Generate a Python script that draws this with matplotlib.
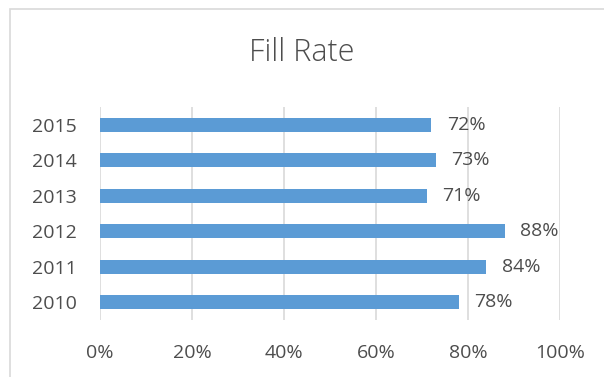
import matplotlib.pyplot as plt
from matplotlib.patches import Rectangle

years = ['2010', '2011', '2012', '2013', '2014', '2015']
fill_rate = [78, 84, 88, 71, 73, 72]
x_ticks = [0, 20, 40, 60, 80, 100]

text_color = '#4D4D4D'
bar_color = '#5B9BD5'
grid_color = '#D9D9D9'

plt.rcParams['font.family'] = ['Open Sans', 'DejaVu Sans']

fig = plt.figure(figsize=(6.04, 3.77), dpi=100)
W, H = 604, 377

# chart frame (cropped on the right and bottom)
fig.patches.append(Rectangle((10 / W, -0.1), 1.2, 1 - 9 / H + 0.1,
                             transform=fig.transFigure, fill=False,
                             edgecolor=grid_color, linewidth=1.2))

ax = fig.add_axes([100 / W, 1 - 320 / H, 460 / W, 213 / H])
pos = range(len(years))
ax.barh(pos, fill_rate, height=0.4, color=bar_color, zorder=3)

for y, v in zip(pos, fill_rate):
    ax.text(v + 3.4, y, f'{v}%', va='center', ha='left',
            fontsize=14, color=text_color)

ax.set_xlim(0, 100)
ax.set_ylim(-0.5, len(years) - 0.5)
ax.set_yticks(list(pos))
ax.set_yticklabels(years)
ax.set_xticks(x_ticks)
ax.set_xticklabels([f'{t}%' for t in x_ticks])
ax.tick_params(axis='both', length=0, labelsize=14, colors=text_color)
ax.tick_params(axis='x', pad=17)
ax.tick_params(axis='y', pad=17)
ax.grid(axis='x', color=grid_color, linewidth=1.2, zorder=0)
for s in ax.spines.values():
    s.set_visible(False)

fig.text(0.5, 1 - 53 / H, 'Fill Rate', ha='center', va='center',
         fontsize=22, color=text_color, fontweight='light')

fig.savefig('out.png', dpi=100)
